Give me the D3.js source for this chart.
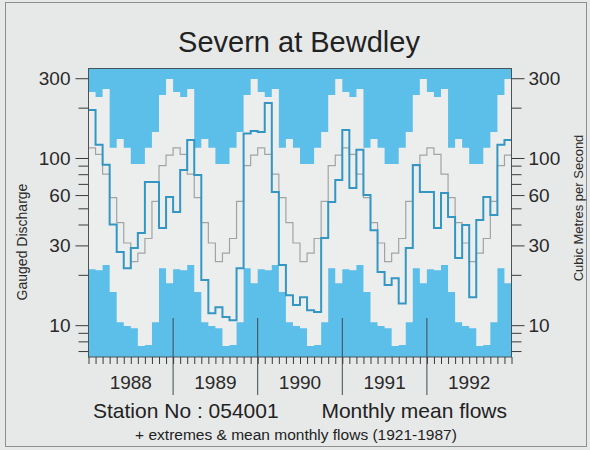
<!DOCTYPE html>
<html>
<head>
<meta charset="utf-8">
<script src="https://cdn.jsdelivr.net/npm/d3@7"></script>
<style>
  html, body { margin: 0; padding: 0; background: #e7e9e9; }
  svg { display: block; font-family: "Liberation Sans", Arial, Helvetica, sans-serif; }
</style>
</head>
<body>
<svg id="chart" width="590" height="450"></svg>
<script>
// Year labels along the time axis (January 1988 - December 1992)
const years = ["1988", "1989", "1990", "1991", "1992"];

// Long-term monthly statistics 1921-1987 (m3/s), Jan..Dec
const maxFlow  = [248, 232, 259, 115, 130, 115, 92, 92, 115, 143, 238, 297];
const minFlow  = [21.6, 21.3, 22.9, 15.8, 10.4, 9.9, 9.6, 7.5, 7.6, 10.4, 21.9, 17.8];
const meanFlow = [115, 105, 80, 58, 41, 31, 24, 27, 33, 55, 90, 104];

// Monthly mean flows (m3/s), Jan..Dec of each year
const flow1988 = [194, 120, 91, 40, 27.4, 21.9, 28.9, 35.6, 71.8, 71.8, 38.1, 58.4];
const flow1989 = [47.5, 84.8, 128, 79.1, 18.6, 11.8, 12.8, 11.2, 10.7, 21.9, 140, 145];
const flow1990 = [143, 213, 62.6, 22.9, 15.1, 13.2, 14.7, 12.3, 12.0, 33.2, 54.5, 73.8];
const flow1991 = [147, 66.1, 112, 60.0, 37.0, 20.8, 17.4, 19.1, 13.5, 28.9, 90.8, 62.6];
const flow1992 = [62.6, 38.1, 61.7, 44.3, 25.2, 39.7, 14.7, 42.5, 58.4, 45.6, 120, 128];

// Axis tick values
const majorTicks = [10, 30, 60, 100, 300];
const minorTicks = [7, 8, 9, 20, 40, 50, 70, 80, 90, 200];

const nMonths = years.length * 12;
const observed = [].concat(flow1988, flow1989, flow1990, flow1991, flow1992);
const repeatYearly = arr => d3.range(nMonths).map(i => arr[i % 12]);
const extMax = repeatYearly(maxFlow);
const extMin = repeatYearly(minFlow);
const ltMean = repeatYearly(meanFlow);

// Each value holds for a whole month: add a closing point for the step curve
const steps = arr => arr.map((v, i) => [i, v]).concat([[arr.length, arr[arr.length - 1]]]);

const svg = d3.select("#chart");
const plot = { left: 88.5, right: 511.5, top: 68.5, bottom: 357 };

const x = d3.scaleLinear().domain([0, nMonths]).range([plot.left, plot.right]);
const y = d3.scaleLog().domain([6.45, 343]).range([plot.bottom, plot.top]);

const BLUE = "#5bbfea";

// outer frame
svg.append("rect").attr("x", 5.5).attr("y", 2.5).attr("width", 581).attr("height", 444)
  .attr("fill", "#e7e9e9").attr("stroke", "#8e9090").attr("stroke-width", 1);

// plot background
svg.append("rect").attr("x", plot.left).attr("y", plot.top)
  .attr("width", plot.right - plot.left).attr("height", plot.bottom - plot.top)
  .attr("fill", "#eceeee");

// upper band: above the highest recorded monthly flow
svg.append("path").datum(steps(extMax))
  .attr("fill", BLUE)
  .attr("d", d3.area().curve(d3.curveStepAfter)
    .x(d => x(d[0])).y0(plot.top).y1(d => y(d[1])));

// lower band: below the lowest recorded monthly flow
svg.append("path").datum(steps(extMin))
  .attr("fill", BLUE)
  .attr("d", d3.area().curve(d3.curveStepAfter)
    .x(d => x(d[0])).y0(plot.bottom).y1(d => y(d[1])));

const stepLine = d3.line().curve(d3.curveStepAfter).x(d => x(d[0])).y(d => y(d[1]));

// long-term mean monthly flow
svg.append("path").datum(steps(ltMean))
  .attr("fill", "none").attr("stroke", "#a2a4a4").attr("stroke-width", 1.2)
  .attr("d", stepLine);

// observed monthly mean flow
svg.append("path").datum(steps(observed))
  .attr("fill", "none").attr("stroke", "#3497c3").attr("stroke-width", 2)
  .attr("d", stepLine);

// year separators
svg.append("g").selectAll("line").data(d3.range(1, years.length))
  .join("line")
  .attr("x1", k => x(k * 12)).attr("x2", k => x(k * 12))
  .attr("y1", 318).attr("y2", 395)
  .attr("stroke", "#3c4a52").attr("stroke-width", 1);

// plot border
svg.append("rect").attr("x", plot.left).attr("y", plot.top)
  .attr("width", plot.right - plot.left).attr("height", plot.bottom - plot.top)
  .attr("fill", "none").attr("stroke", "#4a5458").attr("stroke-width", 1);

function styleAxis(g) {
  g.select(".domain").remove();
  g.selectAll("line").attr("stroke", "#3a3a3a").attr("stroke-width", 1);
  g.selectAll("text").attr("fill", "#2a2a2a").attr("font-size", 19)
    .attr("font-family", "'Liberation Sans', Arial, sans-serif");
}

// left axis
svg.append("g").attr("transform", `translate(${plot.left},0)`)
  .call(d3.axisLeft(y).tickValues(minorTicks).tickSize(10).tickFormat(""))
  .call(styleAxis);
svg.append("g").attr("transform", `translate(${plot.left},0)`)
  .call(d3.axisLeft(y).tickValues(majorTicks).tickSize(13).tickPadding(5).tickFormat(d3.format("d")))
  .call(styleAxis);

// right axis
svg.append("g").attr("transform", `translate(${plot.right},0)`)
  .call(d3.axisRight(y).tickValues(minorTicks).tickSize(10).tickFormat(""))
  .call(styleAxis);
svg.append("g").attr("transform", `translate(${plot.right},0)`)
  .call(d3.axisRight(y).tickValues(majorTicks).tickSize(13).tickPadding(4).tickFormat(d3.format("d")))
  .call(styleAxis);

// monthly ticks along the bottom
svg.append("g").attr("transform", `translate(0,${plot.bottom})`)
  .call(d3.axisBottom(x).tickValues(d3.range(0, nMonths + 1)).tickSize(7).tickFormat(""))
  .call(styleAxis);

// year labels, centred in each year
svg.append("g").selectAll("text").data(years)
  .join("text")
  .attr("x", (d, i) => x(i * 12 + 6)).attr("y", 389)
  .attr("text-anchor", "middle").attr("font-size", 19).attr("fill", "#2a2a2a")
  .text(d => d);

// title
svg.append("text").attr("x", 299).attr("y", 52).attr("text-anchor", "middle")
  .attr("font-size", 29).attr("fill", "#222").text("Severn at Bewdley");

// axis titles
svg.append("text").attr("transform", "translate(27,242) rotate(-90)")
  .attr("text-anchor", "middle").attr("font-size", 14).attr("fill", "#2a2a2a")
  .text("Gauged Discharge");
svg.append("text").attr("transform", "translate(583,208) rotate(-90)")
  .attr("text-anchor", "middle").attr("font-size", 13).attr("fill", "#2a2a2a")
  .text("Cubic Metres per Second");

// footer
svg.append("text").attr("x", 93).attr("y", 418).attr("font-size", 21).attr("fill", "#222")
  .text("Station No : 054001");
svg.append("text").attr("x", 507).attr("y", 418).attr("text-anchor", "end")
  .attr("font-size", 21).attr("fill", "#222").text("Monthly mean flows");
svg.append("text").attr("x", 296).attr("y", 440).attr("text-anchor", "middle")
  .attr("font-size", 15.5).attr("fill", "#222")
  .text("+ extremes & mean monthly flows (1921-1987)");
</script>
</body>
</html>
